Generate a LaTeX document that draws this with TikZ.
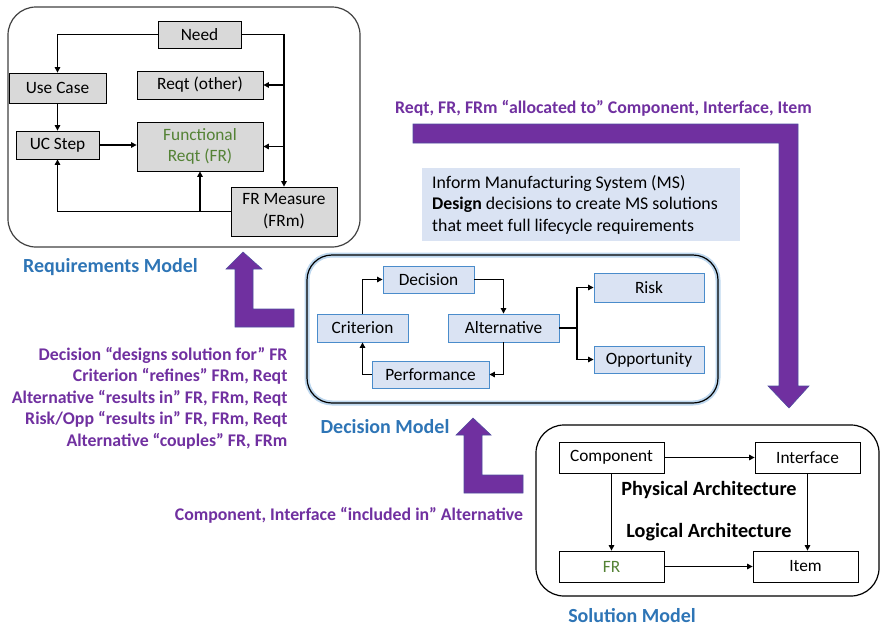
\documentclass[tikz,border=0pt]{standalone}
\usepackage{fontspec}
\setmainfont{Carlito}
\usetikzlibrary{arrows.meta}
\definecolor{mpurple}{HTML}{7030A0}
\definecolor{mblue}{HTML}{2E75B6}
\definecolor{mgreen}{HTML}{548235}
\definecolor{boxgray}{HTML}{D9D9D9}
\definecolor{boxblue}{HTML}{DAE3F3}
\definecolor{edgeblue}{HTML}{4A8CCB}
\definecolor{glowblue}{HTML}{BDD7EE}
\definecolor{arrowedge}{HTML}{4F4C9E}
\begin{document}
\begin{tikzpicture}[x=1pt,y=-1pt,
  txt/.style={font=\fontsize{17.3}{21}\selectfont},
  rbox/.style={draw=black, line width=0.8pt, fill=boxgray, inner sep=0pt, txt, align=center},
  dbox/.style={draw=edgeblue, line width=0.9pt, fill=boxblue, inner sep=0pt, txt},
  sbox/.style={draw=black, line width=0.8pt, fill=white, inner sep=0pt, txt},
  conn/.style={line width=1.1pt, -{Triangle[length=5.5pt,width=5.5pt]}},
  plain/.style={line width=1.1pt},
  model/.style={font=\fontsize{20}{24}\selectfont\bfseries, text=mblue},
  rel/.style={font=\fontsize{17.8}{21.5}\selectfont\bfseries, text=mpurple},
  bigarrow/.style={fill=mpurple, draw=arrowedge, line width=0.6pt},
  frame/.style={rounded corners=28pt, line width=1.2pt}
]
\useasboundingbox (0,0) rectangle (880,629);

% ---------- Requirements model ----------
\draw[frame, draw=black!75] (8,7) rectangle (360,247);
\node[rbox, minimum width=83pt, minimum height=27pt] (need) at (199.5,34.5) {Need};
\node[rbox, minimum width=97pt, minimum height=30pt] (usecase) at (57.5,88) {Use Case};
\node[rbox, minimum width=126pt, minimum height=28pt] (reqo) at (200,85) {Reqt (other)};
\node[rbox, minimum width=83pt, minimum height=28pt] (ucstep) at (57.5,145) {UC Step};
\node[rbox, minimum width=126pt, minimum height=49pt, text=mgreen,
      font=\fontsize{17.3}{21}\selectfont] (fr) at (200,146.5) {Functional\\Reqt (FR)};
\node[rbox, minimum width=106pt, minimum height=49pt,
      font=\fontsize{17.3}{22}\selectfont] (frm) at (284,211.5) {FR Measure\\(FRm)};

\draw[conn] (need.west) -| (usecase.north);
\draw[conn] (need.east) -| (frm.north);
\draw[conn] (frm.north |- reqo.east) -- (reqo.east);
\draw[conn] (frm.north |- fr.east) -- (fr.east);
\draw[conn] (usecase.south) -- (ucstep.north);
\draw[conn] (ucstep.east) -- (ucstep.east -| fr.west);
\draw[conn] (frm.west) -| (ucstep.south);
\draw[conn] (fr.south |- frm.west) -- (fr.south);

\node[model] (reqlabel) at (110.5,267) {Requirements Model};

% ---------- Decision model ----------
\draw[frame, rounded corners=25pt, draw=glowblue, line width=5pt] (307,255) rectangle (718,403);
\draw[frame, rounded corners=25pt, draw=black] (307,255) rectangle (718,403);
\node[dbox, minimum width=91pt, minimum height=27pt] (decision) at (428.5,279.5) {Decision};
\node[dbox, minimum width=91pt, minimum height=28pt] (criterion) at (362.5,328) {Criterion};
\node[dbox, minimum width=111pt, minimum height=28pt] (alternative) at (503.5,328) {Alternative};
\node[dbox, minimum width=117pt, minimum height=27pt] (performance) at (430.5,374.5) {Performance};
\node[dbox, minimum width=110pt, minimum height=29pt] (risk) at (649,287.5) {Risk};
\node[dbox, minimum width=110pt, minimum height=27pt] (opportunity) at (649,359.5) {Opportunity};
\coordinate (split) at (577,328);

\draw[conn] (criterion.north) |- (decision.west);
\draw[conn] (decision.east) -| (alternative.north);
\draw[conn] (alternative.south) |- (performance.east);
\draw[conn] (performance.west) -| (criterion.south);
\draw[plain] (alternative.east) -- (split);
\draw[conn] (split) |- (risk.west);
\draw[conn] (split) |- (opportunity.west);

\node[model] (declabel) at (385,427) {Decision Model};

% ---------- Information note ----------
\node[fill=boxblue, minimum width=318pt, minimum height=73pt, inner sep=0pt] (note) at (581,204.5) {};
\node[anchor=west, align=left, inner sep=0pt, font=\fontsize{17.8}{21.5}\selectfont] (notetext) at (432,204.5)
  {Inform Manufacturing System (MS)\\\textbf{Design} decisions to create MS solutions\\that meet full lifecycle requirements};

% ---------- Solution model ----------
\draw[frame, draw=black] (536,425) rectangle (879,596);
\node[sbox, minimum width=105pt, minimum height=31pt] (component) at (611.5,457.5) {Component};
\node[sbox, minimum width=105pt, minimum height=31pt] (interface) at (807.5,457.5) {Interface};
\node[sbox, minimum width=105pt, minimum height=31pt, text=mgreen] (frsol) at (611.5,566.5) {FR};
\node[sbox, minimum width=105pt, minimum height=31pt] (item) at (805.5,566.5) {Item};
\node[font=\fontsize{20.2}{24}\selectfont\bfseries] (phys) at (709,490) {Physical Architecture};
\node[font=\fontsize{20.2}{24}\selectfont\bfseries] (logic) at (709,532) {Logical Architecture};

\draw[conn] (component.east) -- (interface.west);
\draw[conn] (component.south) -- (frsol.north);
\draw[conn] (interface.south) -- (interface.south |- item.north);
\draw[conn] (frsol.east) -- (item.west);

\node[model] (sollabel) at (632,616) {Solution Model};

% ---------- Relationship arrows ----------
\draw[bigarrow] (413,124) -- (798,124) -- (798,386) -- (809,386) -- (789,408)
  -- (768,386) -- (779,386) -- (779,143) -- (413,143) -- cycle;
\draw[bigarrow] (243,252) -- (262,269) -- (253,269) -- (253,309) -- (294,309)
  -- (294,327) -- (235,327) -- (235,269) -- (226,269) -- cycle;
\draw[bigarrow] (473,418) -- (491,435) -- (482,435) -- (482,475) -- (523,475)
  -- (523,493) -- (464,493) -- (464,435) -- (456,435) -- cycle;

\node[rel] (alloc) at (603.5,108) {Reqt, FR, FRm “allocated to” Component, Interface, Item};
\node[rel, anchor=east, align=right] (decrel) at (291,398)
  {Decision “designs solution for” FR\\Criterion “refines” FRm, Reqt\\Alternative “results in” FR, FRm, Reqt\\Risk/Opp “results in” FR, FRm, Reqt\\Alternative “couples” FR, FRm};
\node[rel] (incl) at (349,515) {Component, Interface “included in” Alternative};
\end{tikzpicture}
\end{document}
